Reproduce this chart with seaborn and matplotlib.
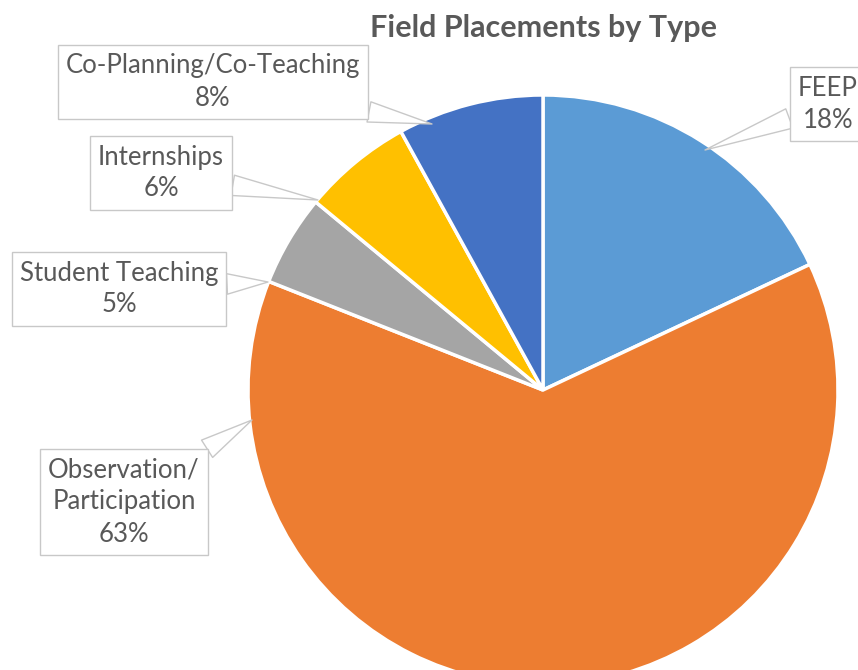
import matplotlib.pyplot as plt
import seaborn as sns

# slices clockwise from 12 o'clock
names = ["FEEP", "Observation/\nParticipation", "Student Teaching", "Internships", "Co-Planning/Co-Teaching"]
shares = [18, 63, 5, 6, 8]
colors = ["#5B9BD5", "#ED7D31", "#A5A5A5", "#FFC000", "#4472C4"]

W, H = 858, 670
CX, CY, R = 543, 390, 295  # pixel coords, y from top

# callout box centre and leader tip, in pixel coords (y from top)
box_pos = [(828, 104), (124, 502), (119, 289), (161, 173), (213, 82)]
tip_pos = [(705, 150), (252, 420), (268, 282), (318, 200), (432, 124)]

sns.set_theme(style="white")
plt.rcParams["font.family"] = ["Lato", "DejaVu Sans"]
GREY = "#595959"


def main():
    fig = plt.figure(figsize=(W / 100, H / 100), dpi=100)
    ax = fig.add_axes([0, 0, 1, 1])
    ax.pie(shares, colors=colors, startangle=90, counterclock=False,
           center=(CX, H - CY), radius=R,
           wedgeprops=dict(edgecolor="white", linewidth=2.5))
    ax.set_xlim(0, W)
    ax.set_ylim(0, H)
    ax.set_aspect("equal")
    ax.axis("off")

    total = sum(shares)
    for name, v, (bx, by), (tx, ty) in zip(names, shares, box_pos, tip_pos):
        label = f"{name}\n{round(100 * v / total)}%"
        ax.annotate(label, xy=(tx, H - ty), xytext=(bx, H - by),
                    ha="center", va="center", fontsize=18.5, color=GREY,
                    linespacing=1.35, annotation_clip=False,
                    bbox=dict(boxstyle="square,pad=0.32", fc="white", ec="#c8c8c8", lw=1),
                    arrowprops=dict(arrowstyle="wedge,tail_width=0.8,shrink_factor=0.5",
                                    fc="white", ec="#c8c8c8", lw=1,
                                    shrinkA=0, shrinkB=0))

    ax.text(CX, H - 28, "Field Placements by Type", ha="center", va="center",
            fontsize=22, fontweight="bold", color=GREY)

    fig.savefig("out.png", dpi=100)
    plt.close(fig)


if __name__ == "__main__":
    main()
